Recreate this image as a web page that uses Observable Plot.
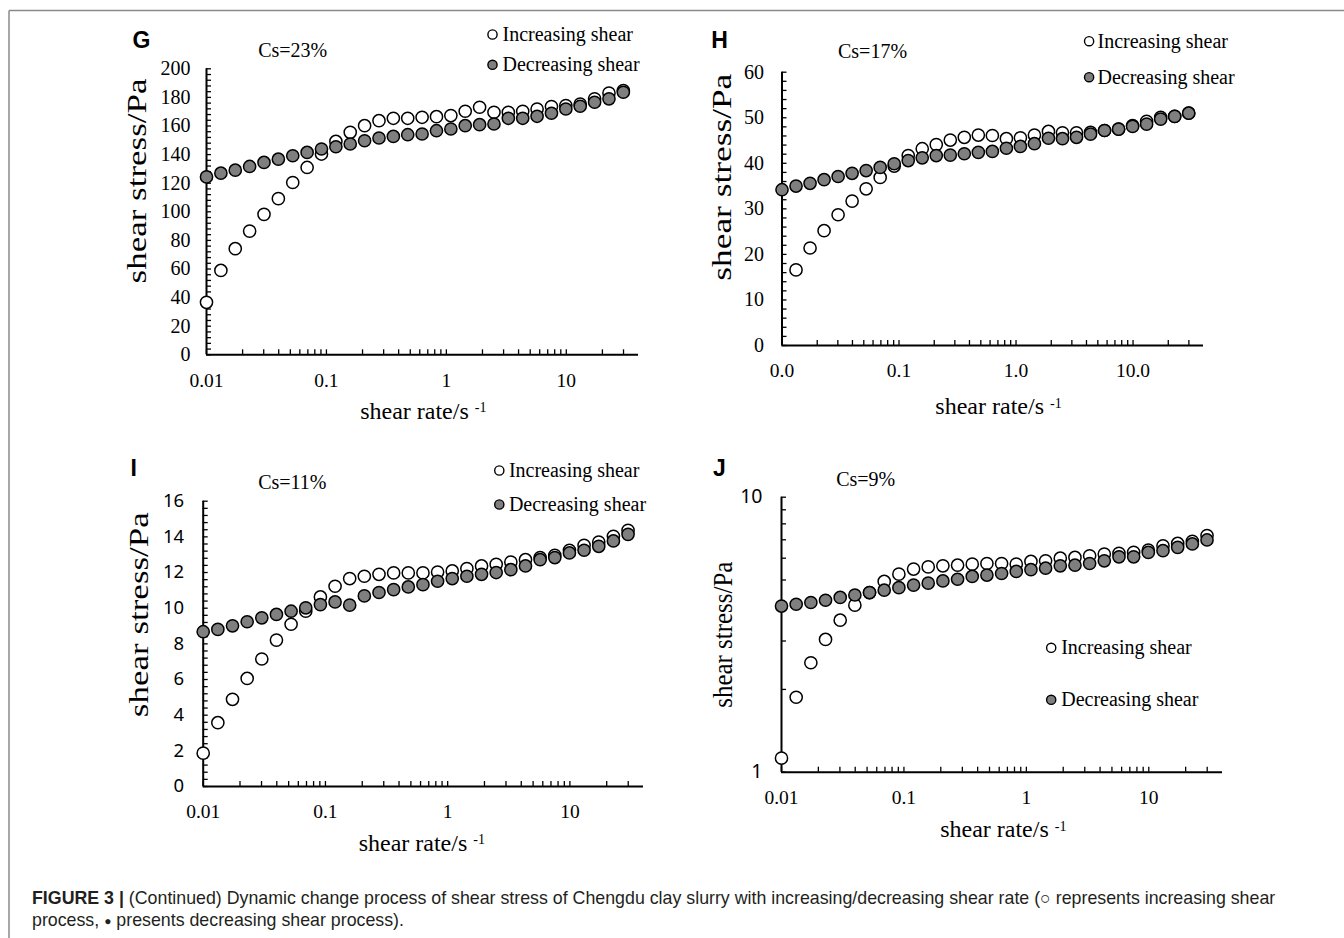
<!DOCTYPE html>
<html>
<head>
<meta charset="utf-8">
<script src="https://cdn.jsdelivr.net/npm/d3@7"></script>
<script src="https://cdn.jsdelivr.net/npm/@observablehq/plot@0.6"></script>
<style>
html, body { margin: 0; padding: 0; background: #fff; }
#wrap { position: relative; width: 1344px; height: 938px; overflow: hidden; background: #fff; }
#base { position: absolute; left: 0; top: 0; }
.panel { position: absolute; }
.panel svg { overflow: visible; }
</style>
</head>
<body>
<div id="wrap">
  <svg id="base" width="1344" height="938"></svg>
</div>
<script>
// ---------------- data ----------------
const shearRate = [0.01, 0.01318, 0.01737, 0.02289, 0.03016, 0.03974, 0.05237, 0.06902, 0.09095, 0.1199,
  0.1579, 0.2081, 0.2743, 0.3614, 0.4763, 0.6277, 0.8271, 1.090, 1.436, 1.893,
  2.494, 3.287, 4.332, 5.708, 7.522, 9.913, 13.06, 17.22, 22.69, 29.9];

const incG = [36.7, 59, 74.2, 86.5, 98.2, 109.2, 120.5, 131, 140.4, 149.2, 155.6, 160.2, 163.7, 165.4, 165.4,
  166.1, 166.5, 167.3, 170.3, 173.1, 169.6, 169.6, 170.3, 171.9, 173.6, 174.3, 175.4, 179, 183, 184.8];
const decG = [124.4, 127, 129.1, 131.7, 134.5, 136.8, 139.2, 141.5, 143.9, 145.5, 147.4, 149.7, 151.6, 152.7, 153.9,
  154.4, 156.7, 157.9, 160.2, 160.9, 161.4, 165.4, 165.4, 166.8, 168.9, 171.9, 173.8, 176.6, 179, 183.6];

const incH = [null, 16.6, 21.4, 25.2, 28.7, 31.7, 34.4, 36.9, 39.4, 41.7, 43.2, 44.1, 45.1, 45.7, 46.2,
  46.1, 45.4, 45.6, 46.2, 47.0, 46.7, 46.7, 46.8, 47.2, 47.5, 48.3, 49.2, 50.1, 50.3, 51.0];
const decH = [34.2, 35.0, 35.6, 36.4, 37.1, 37.8, 38.4, 39.1, 39.9, 40.6, 41.2, 41.7, 41.8, 42.1, 42.4,
  42.6, 43.3, 43.7, 44.3, 45.5, 45.4, 45.7, 46.4, 47.2, 47.5, 48.1, 48.6, 49.7, 50.3, 51.0];

const incI = [1.87, 3.58, 4.89, 6.06, 7.15, 8.21, 9.1, 9.83, 10.63, 11.23, 11.66, 11.79, 11.9, 11.98, 11.98,
  11.98, 12.03, 12.09, 12.22, 12.37, 12.46, 12.59, 12.72, 12.84, 12.97, 13.25, 13.53, 13.71, 14.03, 14.37];
const decI = [8.68, 8.81, 9.01, 9.24, 9.46, 9.65, 9.83, 10.02, 10.2, 10.35, 10.17, 10.69, 10.88, 11.04, 11.19,
  11.32, 11.51, 11.66, 11.79, 11.9, 12.0, 12.16, 12.37, 12.72, 12.84, 13.1, 13.25, 13.47, 13.77, 14.14];

const incJ = [1.125, 1.873, 2.50, 3.04, 3.57, 4.05, 4.50, 4.94, 5.25, 5.48, 5.58, 5.63, 5.66, 5.71, 5.74,
  5.74, 5.71, 5.84, 5.87, 6.00, 6.04, 6.12, 6.21, 6.25, 6.30, 6.42, 6.66, 6.79, 6.91, 7.25];
const decJ = [4.02, 4.08, 4.14, 4.22, 4.32, 4.41, 4.50, 4.59, 4.69, 4.79, 4.87, 4.96, 5.03, 5.15, 5.21,
  5.28, 5.37, 5.45, 5.52, 5.63, 5.66, 5.74, 5.87, 6.07, 6.07, 6.30, 6.39, 6.57, 6.76, 6.99];

const xTickValues = [0.01, 0.1, 1, 10];
const xTickLabels = ["0.01", "0.1", "1", "10"];
const xTickLabelsH = ["0.0", "0.1", "1.0", "10.0"];

const yTicksG = [0, 20, 40, 60, 80, 100, 120, 140, 160, 180, 200];
const yTicksH = [0, 10, 20, 30, 40, 50, 60];
const yTicksI = [0, 2, 4, 6, 8, 10, 12, 14, 16];
const yTicksJ = [1, 10];

const panelLetters = ["G", "H", "I", "J"];
const concLabels = ["Cs=23%", "Cs=17%", "Cs=11%", "Cs=9%"];
const legendLabels = ["Increasing shear", "Decreasing shear"];
const xTitle = "shear rate/s";
const xTitleSup = "-1";
const yTitle = "shear stress/Pa";

const captionBold = "FIGURE 3 |";
const captionLine1 = " (Continued) Dynamic change process of shear stress of Chengdu clay slurry with increasing/decreasing shear rate (○ represents increasing shear";
const captionLine2a = "process, ";
const captionBullet = "●";
const captionLine2b = " presents decreasing shear process).";

// ---------------- layout (page pixel positions) ----------------
const SERIF = "'Liberation Serif', 'Times New Roman', serif";
const SANS = "'Liberation Sans', Arial, sans-serif";
const NSANS = "'Noto Sans', 'Open Sans', sans-serif";
const GRAY = "#7f7f7f";

const panels = [
  { letter: panelLetters[0], conc: concLabels[0], inc: incG, dec: decG, yType: "linear", yDomain: [0, 200],
    yTicks: yTicksG, yMinor: d3.range(0, 200.01, 4), yFont: SERIF, yFontSize: 20, xLabels: xTickLabels,
    L: { left: 120, top: 20, width: 540, height: 420, fx0: 206, fy0: 68.3, fx1: 638, fy1: 354.3,
         xT: [422.8, 418], yT: [137.3, 180.5], yLen: 205, ySize: 27, conc: [257.7, 56.7], letter: [132, 47],
         leg: [492, 34, 64.3, 502], yGap: 16 } },
  { letter: panelLetters[1], conc: concLabels[1], inc: incH, dec: decH, yType: "linear", yDomain: [0, 60],
    yTicks: yTicksH, yMinor: d3.range(0, 60.01, 2), yFont: SERIF, yFontSize: 20, xLabels: xTickLabelsH,
    L: { left: 700, top: 20, width: 560, height: 420, fx0: 781.5, fy0: 71.7, fx1: 1203, fy1: 345,
         xT: [998, 413.3], yT: [721.4, 176.7], yLen: 207, ySize: 27, conc: [837.5, 57.7], letter: [710.7, 47.7],
         leg: [1088.6, 40.7, 76.7, 1097], yGap: 18 } },
  { letter: panelLetters[2], conc: concLabels[2], inc: incI, dec: decI, yType: "linear", yDomain: [0, 16],
    yTicks: yTicksI, yMinor: d3.range(0, 16.01, 0.4), yFont: NSANS, yFontSize: 18.5, xLabels: xTickLabels,
    L: { left: 120, top: 450, width: 540, height: 420, fx0: 202.7, fy0: 500.7, fx1: 643, fy1: 786,
         xT: [421.3, 850], yT: [139, 614.2], yLen: 205, ySize: 27, conc: [257.7, 488.3], letter: [130, 475],
         leg: [498.8, 470, 504, 508.4], yGap: 19 } },
  { letter: panelLetters[3], conc: concLabels[3], inc: incJ, dec: decJ, yType: "log", yDomain: [1, 10],
    yTicks: yTicksJ, yMinor: [1, 2, 3, 4, 5, 6, 7, 8, 9, 10], yFont: NSANS, yFontSize: 19.5, xLabels: xTickLabels,
    L: { left: 700, top: 450, width: 560, height: 420, fx0: 781, fy0: 496.7, fx1: 1222, fy1: 771.7,
         xT: [1002.8, 836.7], yT: [722.4, 634.2], yLen: 146, ySize: 27, conc: [835.7, 485], letter: [712.5, 475],
         leg: [1050.7, 647.3, 699.3, 1060.7], yGap: 19 } }
];

const xMinor = [];
for (const e of [0.01, 0.1, 1, 10]) for (let k = 1; k <= 9; k++) { const v = +(k * e).toPrecision(3); if (v < 39) xMinor.push(v); }

function makePanel(p) {
  const L = p.L;
  const rows = shearRate.map((x, i) => ({ x, inc: p.inc[i], dec: p.dec[i] }));
  const at = (ax, ay) => ({ frameAnchor: "top-left", dx: ax - L.fx0, dy: ay - L.fy0 });
  const xLab = new Map(xTickValues.map((v, i) => [v, p.xLabels[i]]));
  const yLab = new Map(p.yTicks.map(v => [v, String(v)]));
  const ymin = p.yDomain[0];

  const plot = Plot.plot({
    width: L.width, height: L.height,
    marginLeft: L.fx0 - L.left, marginTop: L.fy0 - L.top,
    marginRight: L.left + L.width - L.fx1, marginBottom: L.top + L.height - L.fy1,
    x: { type: "log", domain: [0.01, 40] },
    y: { type: p.yType, domain: p.yDomain },
    style: { fontFamily: SERIF, fontSize: "19px", color: "black", background: "transparent", overflow: "visible" },
    marks: [
      Plot.axisX({ ticks: xMinor, tickSize: 5, dy: -5, fill: "none", stroke: "black", strokeWidth: 1.3, label: null }),
      Plot.axisY({ ticks: p.yMinor, tickSize: 5, dx: 5, fill: "none", stroke: "black", strokeWidth: 1.3, label: null }),
      Plot.axisX({ ticks: xTickValues, tickSize: 0, tickPadding: 18, tickFormat: d => xLab.get(d),
        fontSize: 19.5, fontFamily: SERIF, fill: "black", label: null }),
      Plot.axisY({ ticks: p.yTicks, tickSize: 0, tickPadding: L.yGap, tickFormat: d => yLab.get(d),
        fontSize: p.yFontSize, fontFamily: p.yFont, fill: "black", label: null }),
      Plot.ruleX([0.01], { stroke: "black", strokeWidth: 2 }),
      Plot.ruleY([ymin], { stroke: "black", strokeWidth: 2 }),
      Plot.dot(rows, { x: "x", y: "inc", r: 6.1, fill: "white", stroke: "black", strokeWidth: 1.5 }),
      Plot.dot(rows, { x: "x", y: "dec", r: 6.1, fill: GRAY, stroke: "black", strokeWidth: 1.5 }),
      Plot.text([xTitle], { ...at(L.xT[0], L.xT[1]), text: d => d, textAnchor: "middle", lineAnchor: "bottom",
        fontSize: 24, fontFamily: SERIF, fill: "black" }),
      Plot.text([yTitle], { ...at(L.yT[0], L.yT[1]), text: d => d, rotate: -90, textAnchor: "middle", lineAnchor: "middle",
        fontSize: L.ySize, fontFamily: SERIF, fill: "black" }),
      Plot.text([p.conc], { ...at(L.conc[0], L.conc[1]), text: d => d, textAnchor: "start", lineAnchor: "bottom",
        fontSize: 20, fontFamily: SERIF, fill: "black" }),
      Plot.text([p.letter], { ...at(L.letter[0], L.letter[1]), text: d => d, textAnchor: "start", lineAnchor: "bottom",
        fontSize: 23, fontFamily: SANS, fontWeight: "bold", fill: "black" }),
      Plot.dot([0], { ...at(L.leg[0], L.leg[1]), r: 4.6, fill: "white", stroke: "black", strokeWidth: 1.4 }),
      Plot.dot([0], { ...at(L.leg[0], L.leg[2]), r: 4.6, fill: GRAY, stroke: "black", strokeWidth: 1.4 }),
      Plot.text([legendLabels[0]], { ...at(L.leg[3], L.leg[1]), text: d => d, textAnchor: "start", lineAnchor: "middle",
        fontSize: 20, fontFamily: SERIF, fill: "black" }),
      Plot.text([legendLabels[1]], { ...at(L.leg[3], L.leg[2]), text: d => d, textAnchor: "start", lineAnchor: "middle",
        fontSize: 20, fontFamily: SERIF, fill: "black" })
    ]
  });

  d3.select(plot).selectAll("text").each(function () {
    const t = d3.select(this);
    if (this.textContent === xTitle) {
      t.append("tspan").attr("dx", 6).attr("dy", -6.3).attr("font-size", 14).text(xTitleSup);
    } else if (this.textContent === yTitle && L.yLen) {
      t.attr("textLength", L.yLen).attr("lengthAdjust", "spacingAndGlyphs");
    }
  });

  const div = document.createElement("div");
  div.className = "panel";
  div.style.left = L.left + "px";
  div.style.top = L.top + "px";
  div.appendChild(plot);
  document.getElementById("wrap").appendChild(div);
}

panels.forEach(makePanel);

// ---------------- frame & caption ----------------
const base = d3.select("#base");
base.append("line").attr("x1", 9).attr("x2", 1344).attr("y1", 10.5).attr("y2", 10.5)
  .attr("stroke", "#8a8a8a").attr("stroke-width", 1.5);
base.append("line").attr("x1", 9).attr("x2", 9).attr("y1", 10.5).attr("y2", 938)
  .attr("stroke", "#8a8a8a").attr("stroke-width", 1.5);

const cap1 = base.append("text").attr("x", 32).attr("y", 904)
  .attr("font-family", SANS).attr("font-size", 17.8).attr("fill", "#231f20");
cap1.append("tspan").attr("font-weight", "bold").text(captionBold);
cap1.append("tspan").text(captionLine1);

const cap2 = base.append("text").attr("x", 32).attr("y", 926)
  .attr("font-family", SANS).attr("font-size", 17.8).attr("fill", "#231f20");
cap2.append("tspan").text(captionLine2a);
cap2.append("tspan").attr("font-size", 12).attr("dy", -1.5).text(captionBullet);
cap2.append("tspan").attr("dy", 1.5).text(captionLine2b);
</script>
</body>
</html>
